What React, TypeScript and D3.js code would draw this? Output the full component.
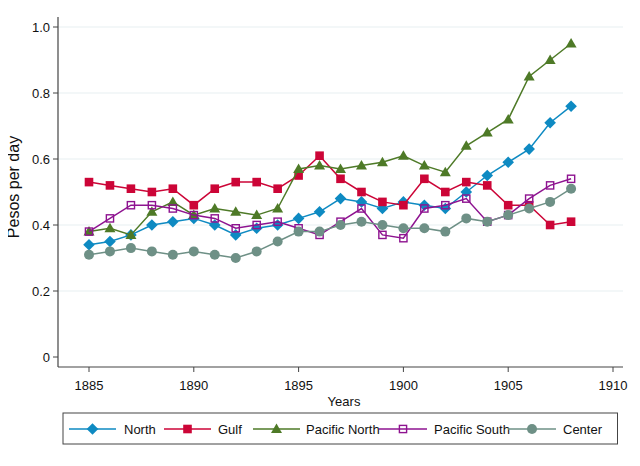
import React from "react";
import * as d3 from "d3";

const years = d3.range(1885, 1909);

const north = [0.34, 0.35, 0.37, 0.40, 0.41, 0.42, 0.40, 0.37, 0.39, 0.40, 0.42, 0.44, 0.48, 0.47, 0.45, 0.47, 0.46, 0.45, 0.50, 0.55, 0.59, 0.63, 0.71, 0.76];
const gulf = [0.53, 0.52, 0.51, 0.50, 0.51, 0.46, 0.51, 0.53, 0.53, 0.51, 0.55, 0.61, 0.54, 0.50, 0.47, 0.46, 0.54, 0.50, 0.53, 0.52, 0.46, 0.46, 0.40, 0.41];
const pacificNorth = [0.38, 0.39, 0.37, 0.44, 0.47, 0.43, 0.45, 0.44, 0.43, 0.45, 0.57, 0.58, 0.57, 0.58, 0.59, 0.61, 0.58, 0.56, 0.64, 0.68, 0.72, 0.85, 0.90, 0.95];
const pacificSouth = [0.38, 0.42, 0.46, 0.46, 0.45, 0.43, 0.42, 0.39, 0.40, 0.41, 0.39, 0.37, 0.41, 0.45, 0.37, 0.36, 0.45, 0.46, 0.48, 0.41, 0.43, 0.48, 0.52, 0.54];
const center = [0.31, 0.32, 0.33, 0.32, 0.31, 0.32, 0.31, 0.30, 0.32, 0.35, 0.38, 0.38, 0.40, 0.41, 0.40, 0.39, 0.39, 0.38, 0.42, 0.41, 0.43, 0.45, 0.47, 0.51];

const xTicks = [1885, 1890, 1895, 1900, 1905, 1910];
const yTicks = [0, 0.2, 0.4, 0.6, 0.8, 1.0];

type Shape = "diamond" | "square" | "triangle" | "hollowSquare" | "circle";

const series: { name: string; values: number[]; color: string; shape: Shape }[] = [
  { name: "North", values: north, color: "#0E8AC2", shape: "diamond" },
  { name: "Gulf", values: gulf, color: "#CC0537", shape: "square" },
  { name: "Pacific North", values: pacificNorth, color: "#4E7A27", shape: "triangle" },
  { name: "Pacific South", values: pacificSouth, color: "#8E1390", shape: "hollowSquare" },
  { name: "Center", values: center, color: "#6E9086", shape: "circle" },
];

const W = 640;
const H = 466;
const font = "'Liberation Sans', Arial, sans-serif";
const axisColor = "#444";
const gridColor = "#E8F0F1";

const Marker = ({ shape, color, x, y }: { shape: Shape; color: string; x: number; y: number }) => {
  switch (shape) {
    case "diamond":
      return <path d={`M${x},${y - 5.8}L${x + 5.8},${y}L${x},${y + 5.8}L${x - 5.8},${y}Z`} fill={color} />;
    case "square":
      return <rect x={x - 4.3} y={y - 4.3} width={8.6} height={8.6} fill={color} />;
    case "triangle":
      return <path d={`M${x},${y - 5.5}L${x + 5.5},${y + 4}L${x - 5.5},${y + 4}Z`} fill={color} />;
    case "hollowSquare":
      return <rect x={x - 3.6} y={y - 3.6} width={7.2} height={7.2} fill="none" stroke={color} strokeWidth={1.4} />;
    case "circle":
      return <circle cx={x} cy={y} r={5} fill={color} />;
  }
};

export default function App() {
  const x = d3.scaleLinear().domain([1885, 1910]).range([89, 613]);
  const y = d3.scaleLinear().domain([0, 1]).range([357, 27]);
  const axisLeft = 58;
  const axisBottom = 367;

  const line = d3
    .line<number>()
    .x((_, i) => x(years[i]))
    .y((d) => y(d));

  // legend layout: line start, marker, text start
  const legendItems = [
    { x0: 69, x1: 116, tx: 124 },
    { x0: 164, x1: 211, tx: 218 },
    { x0: 253, x1: 300, tx: 306 },
    { x0: 379, x1: 427, tx: 434 },
    { x0: 508, x1: 556, tx: 563 },
  ];
  const legendY = 429;

  return (
    <svg width={W} height={H} style={{ display: "block", margin: -8 }} fontFamily={font}>
      <rect x={0} y={0} width={W} height={H} fill="#EAF2F3" />
      <rect x={2} y={2} width={W - 5} height={H - 5} fill="#fff" />

      {yTicks.map((t) => (
        <g key={t}>
          {t > 0 && <line x1={axisLeft} x2={623} y1={y(t)} y2={y(t)} stroke={gridColor} strokeWidth={1.2} />}
          <line x1={axisLeft - 5} x2={axisLeft} y1={y(t)} y2={y(t)} stroke={axisColor} />
          <text x={axisLeft - 8} y={y(t)} dy="0.35em" textAnchor="end" fontSize={13} fill="#111">
            {t === 0 ? "0" : t.toFixed(1)}
          </text>
        </g>
      ))}

      <line x1={axisLeft} x2={axisLeft} y1={17} y2={axisBottom} stroke={axisColor} strokeWidth={1.2} />
      <line x1={axisLeft} x2={623} y1={axisBottom} y2={axisBottom} stroke={axisColor} strokeWidth={1.2} />

      {xTicks.map((t) => (
        <g key={t}>
          <line x1={x(t)} x2={x(t)} y1={axisBottom} y2={axisBottom + 5} stroke={axisColor} />
          <text x={x(t)} y={390} textAnchor="middle" fontSize={13} fill="#111">
            {t}
          </text>
        </g>
      ))}

      <text x={344} y={406} textAnchor="middle" fontSize={13} fill="#111">
        Years
      </text>
      <text transform="translate(19,187) rotate(-90)" textAnchor="middle" fontSize={16} fill="#111">
        Pesos per day
      </text>

      {series.map((s) => (
        <g key={s.name}>
          <path d={line(s.values) ?? ""} fill="none" stroke={s.color} strokeWidth={1.5} />
          {s.values.map((v, i) => (
            <Marker key={i} shape={s.shape} color={s.color} x={x(years[i])} y={y(v)} />
          ))}
        </g>
      ))}

      <rect x={63} y={413} width={554.5} height={31} fill="#fff" stroke="#444" strokeWidth={1} />
      {series.map((s, i) => {
        const it = legendItems[i];
        return (
          <g key={s.name}>
            <line x1={it.x0} x2={it.x1} y1={legendY} y2={legendY} stroke={s.color} strokeWidth={1.5} />
            <Marker shape={s.shape} color={s.color} x={(it.x0 + it.x1) / 2} y={legendY} />
            <text x={it.tx} y={legendY} dy="0.35em" fontSize={13} fill="#111">
              {s.name}
            </text>
          </g>
        );
      })}
    </svg>
  );
}
